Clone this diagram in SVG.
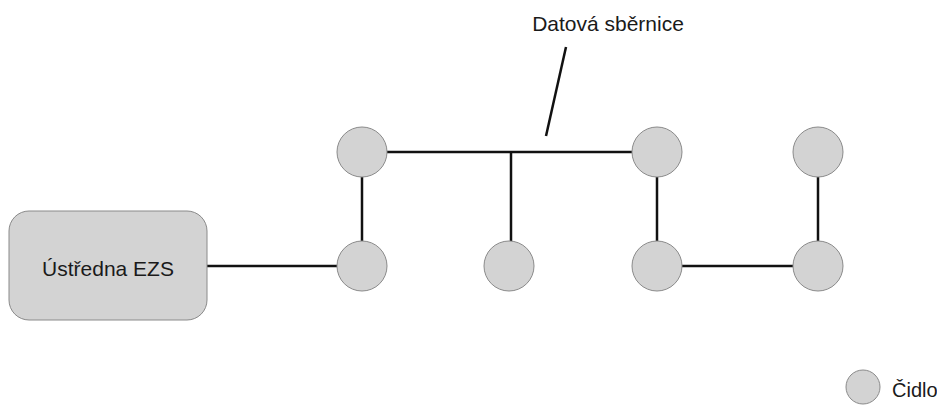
<svg xmlns="http://www.w3.org/2000/svg" width="937" height="405" viewBox="0 0 937 405">
<style>
.node{fill:#d3d3d3;stroke:#8a8a8a;stroke-width:1}
.wire{stroke:#111;stroke-width:2.5;fill:none}
.lbl{font-family:"Liberation Sans",Arial,sans-serif;fill:#1a1a1a}
</style>
<rect width="937" height="405" fill="#fff"/>
<g id="connectors">
<line class="wire" x1="207" y1="266" x2="337" y2="266"/>
<line class="wire" x1="362" y1="177" x2="362" y2="241"/>
<line class="wire" x1="387" y1="152" x2="632" y2="152"/>
<line class="wire" x1="511" y1="152" x2="511" y2="241"/>
<line class="wire" x1="657" y1="177" x2="657" y2="241"/>
<line class="wire" x1="682" y1="266" x2="793" y2="266"/>
<line class="wire" x1="818" y1="177" x2="818" y2="241"/>
<line class="wire" x1="566" y1="47" x2="546" y2="136" stroke-width="3"/>
</g>
<g id="label-bus"><text class="lbl" x="608" y="31" font-size="21" text-anchor="middle">Datová sběrnice</text></g>
<g id="central"><rect class="node" x="9" y="211" width="198" height="109" rx="20"/><text class="lbl" x="108" y="276" font-size="21" text-anchor="middle">Ústředna EZS</text></g>
<g id="s1"><circle class="node" cx="362" cy="152" r="25"/></g>
<g id="s2"><circle class="node" cx="657" cy="152" r="25"/></g>
<g id="s3"><circle class="node" cx="818" cy="152" r="25"/></g>
<g id="s4"><circle class="node" cx="362" cy="266" r="25"/></g>
<g id="s5"><circle class="node" cx="509" cy="266" r="25"/></g>
<g id="s6"><circle class="node" cx="657" cy="266" r="25"/></g>
<g id="s7"><circle class="node" cx="818" cy="266" r="25"/></g>
<g id="legend"><circle class="node" cx="863" cy="387" r="17"/><text class="lbl" x="892" y="397" font-size="20">Čidlo</text></g>
</svg>
